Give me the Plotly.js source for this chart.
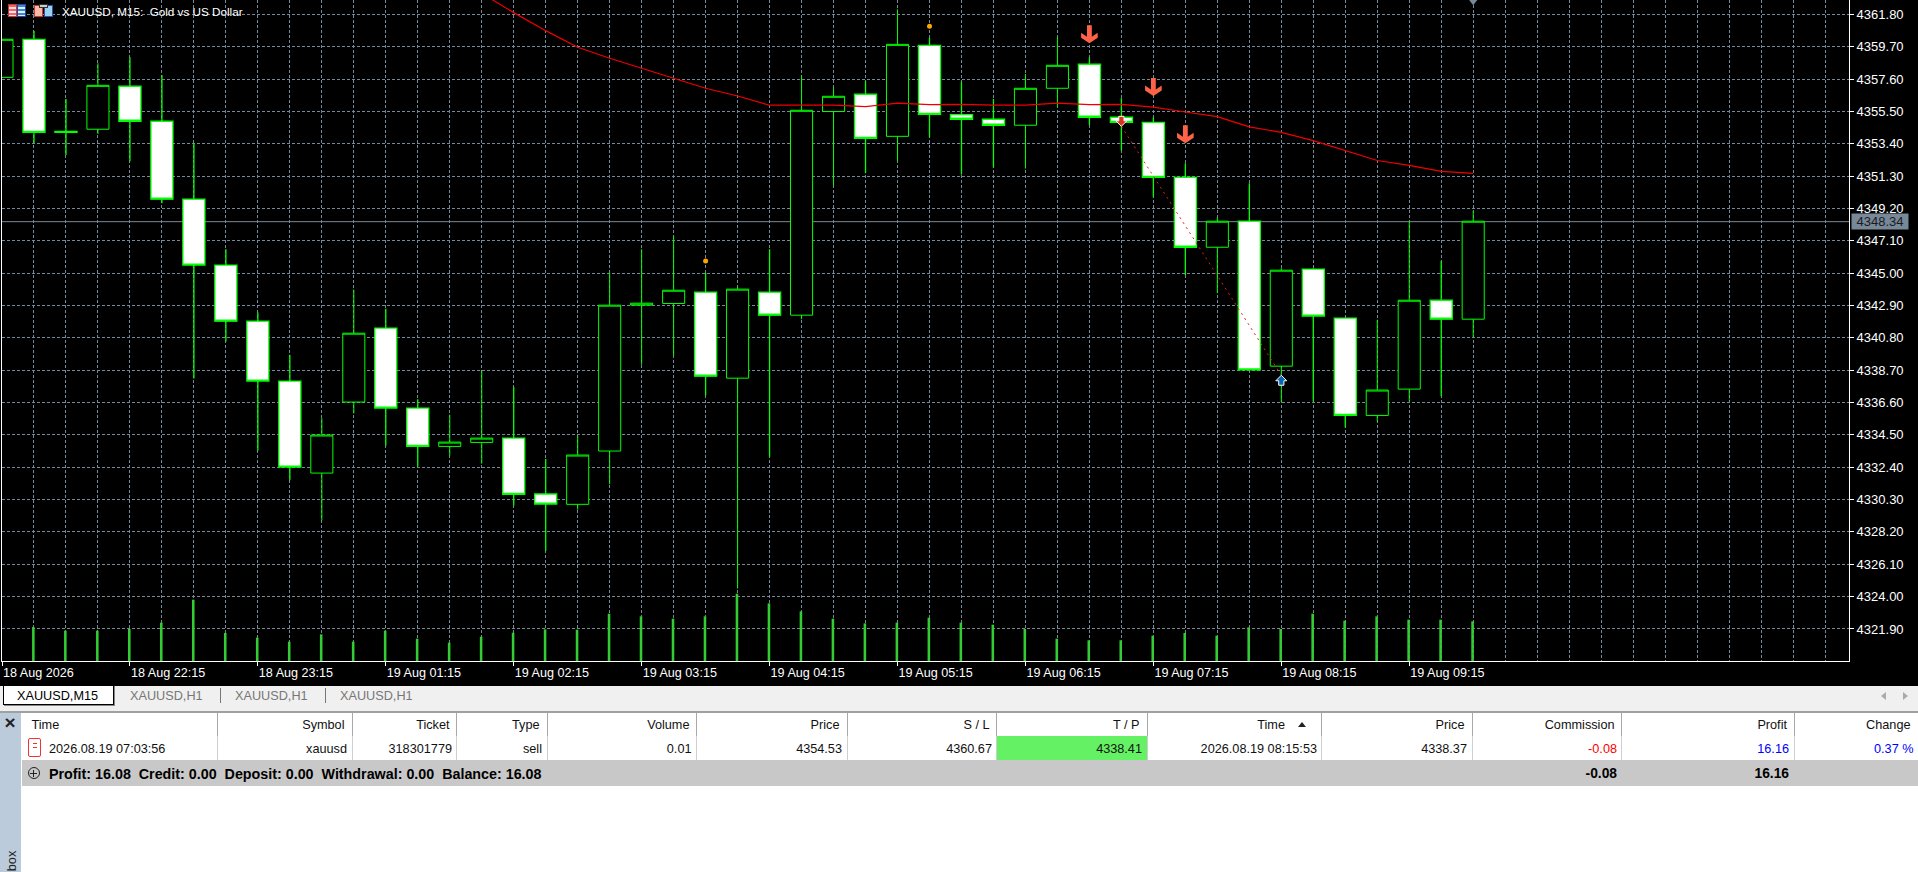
<!DOCTYPE html>
<html>
<head>
<meta charset="utf-8">
<script src="https://cdn.plot.ly/plotly-3.0.1.min.js"></script>
<style>
html,body{margin:0;padding:0;background:#000;width:1918px;height:872px;overflow:hidden;font-family:"Liberation Sans",Arial,sans-serif}
#chart{position:absolute;left:0;top:0;width:1918px;height:872px}
.b{position:absolute}
.t{position:absolute;white-space:pre;font-size:12.7px;line-height:16px;color:#111}
</style>
</head>
<body>
<div id="chart"></div>
<div id="ui"></div>
<script>
// ---- candles (M15 bars, oldest first) ----
const open  = [4357.71,4360.18,4354.20,4354.34,4357.13,4354.86,4349.80,4345.52,4341.88,4337.99,4332.02,4336.63,4341.43,4336.24,4333.75,4334.01,4334.29,4330.66,4329.99,4333.45,4342.92,4343.03,4343.76,4338.18,4343.76,4342.27,4355.49,4356.61,4353.88,4359.79,4355.29,4354.99,4354.60,4357.00,4358.56,4355.12,4354.79,4351.22,4346.68,4348.37,4338.96,4345.26,4342.08,4335.76,4337.47,4343.24,4342.01];
const high  = [4360.18,4360.72,4356.31,4358.62,4359.01,4357.86,4353.43,4346.55,4342.44,4339.70,4335.59,4343.92,4342.68,4336.82,4335.81,4338.68,4337.60,4332.93,4334.44,4345.04,4346.55,4347.40,4345.00,4344.13,4346.55,4357.86,4357.06,4357.47,4362.12,4360.29,4357.43,4356.31,4357.93,4360.33,4359.01,4356.35,4355.12,4352.13,4348.63,4350.84,4345.32,4345.32,4342.08,4341.97,4348.37,4345.78,4349.04];
const low   = [4357.71,4353.43,4352.67,4354.04,4352.26,4349.54,4338.16,4340.56,4333.49,4331.55,4328.95,4335.89,4333.79,4332.45,4333.15,4332.63,4329.92,4326.96,4329.64,4331.29,4339.05,4339.63,4337.06,4324.52,4333.08,4342.01,4350.68,4351.48,4352.26,4353.82,4351.40,4351.85,4351.79,4355.77,4354.60,4352.95,4349.93,4344.87,4343.70,4338.68,4336.63,4336.67,4334.98,4335.37,4336.67,4337.00,4340.84];
const close = [4360.18,4354.14,4354.14,4357.19,4354.86,4349.80,4345.52,4341.88,4337.99,4332.41,4334.49,4341.10,4336.24,4333.75,4334.03,4334.29,4330.64,4330.01,4333.19,4342.92,4343.05,4343.89,4338.31,4343.96,4342.27,4355.57,4356.48,4353.75,4359.85,4355.31,4354.99,4354.60,4357.00,4358.49,4355.12,4354.79,4351.22,4346.68,4348.37,4338.72,4345.19,4342.21,4335.76,4337.41,4343.24,4342.01,4348.37];
const volume = [null,1020,910,910,960,1150,1840,840,700,580,800,580,910,670,550,730,850,950,940,1420,1340,1270,1340,2020,1730,1490,1270,1130,1150,1300,1150,1090,960,670,620,620,760,840,760,1010,960,1420,1210,1340,1240,1240,1190];
const volumeAxisMax = 19839;
// moving average, bars 15..46
const maStart = 15;
const maValues = [4363.16,4361.91,4360.74,4359.66,4358.95,4358.30,4357.69,4357.00,4356.50,4355.90,4355.90,4355.90,4355.81,4356.03,4355.94,4355.96,4355.90,4355.90,4356.03,4355.94,4355.96,4355.77,4355.46,4355.16,4354.49,4354.14,4353.60,4352.95,4352.31,4352.00,4351.61,4351.48];
// axis
const priceTicks = [4361.80,4359.70,4357.60,4355.50,4353.40,4351.30,4349.20,4347.10,4345.00,4342.90,4340.80,4338.70,4336.60,4334.50,4332.40,4330.30,4328.20,4326.10,4324.00,4321.90];
const timeTickBars = [0,4,8,12,16,20,24,28,32,36,40,44];
const timeLabels = ["18 Aug 2026","18 Aug 22:15","18 Aug 23:15","19 Aug 01:15","19 Aug 02:15","19 Aug 03:15","19 Aug 04:15","19 Aug 05:15","19 Aug 06:15","19 Aug 07:15","19 Aug 08:15","19 Aug 09:15"];
const lastBarSlots = 57;
const priceRange = [4319.82,4362.73];
const barRange = [0,57.75];
const currentPrice = 4348.34;
// markers
const signalBars = [22,29];           const signalPrices = [4345.78,4361.02];
const sellArrowBars = [34,36,37];     const sellArrowPrices = [4359.92,4356.50,4353.43];
const tradeBars = [35,40];            const tradePrices = [4354.53,4338.37];
// ---- terminal table ----
const tabs = ["XAUUSD,M15","XAUUSD,H1","XAUUSD,H1","XAUUSD,H1"];
const headers = ["Time","Symbol","Ticket","Type","Volume","Price","S / L","T / P","Time","Price","Commission","Profit","Change"];
const rowValues = ["2026.08.19 07:03:56","xauusd","318301779","sell","0.01","4354.53","4360.67","4338.41","2026.08.19 08:15:53","4338.37","-0.08","16.16","0.37 %"];
const summaryText = "Profit: 16.08  Credit: 0.00  Deposit: 0.00  Withdrawal: 0.00  Balance: 16.08";
const summaryCommission = "-0.08";
const summaryProfit = "16.16";
const titleText = "XAUUSD, M15:  Gold vs US Dollar";

const GREEN='#00ff00', GRID='#778899', dash='3px,2px';
const L=1.5,R=68.6,T=0,B=210.7,plotW=1918-L-R,plotH=872-T-B;
const idx=open.map((_,i)=>i);
const slots=Array.from({length:lastBarSlots+1},(_,i)=>i);

const traces=[
 {type:'bar',x:idx,y:volume,yaxis:'y2',width:0.08,offset:-0.06,marker:{color:'#32cd32',line:{width:0}},hoverinfo:'skip',showlegend:false},
 {type:'candlestick',x:idx,open:open,high:high,low:low,close:close,
  increasing:{line:{color:GREEN,width:1},fillcolor:'#000000'},
  decreasing:{line:{color:GREEN,width:1.3},fillcolor:'#ffffff'},
  whiskerwidth:0,showlegend:false,hoverinfo:'skip'},
 {type:'scatter',mode:'lines',x:maValues.map((_,i)=>maStart+i),y:maValues,line:{color:'#f00000',width:1.2},showlegend:false,hoverinfo:'skip'},
 {type:'scatter',mode:'lines',x:tradeBars,y:tradePrices,line:{color:'#f02010',width:1,dash:'2px,4px'},showlegend:false,hoverinfo:'skip'},
 {type:'scatter',mode:'markers',x:signalBars,y:signalPrices,marker:{color:'#ffa500',size:5},showlegend:false,hoverinfo:'skip'},
 {type:'scatter',mode:'markers',x:[46],y:[priceRange[1]-0.05],marker:{symbol:'triangle-down',color:'#778899',size:9},showlegend:false,hoverinfo:'skip'}
];

const annotations=[
 {xref:'paper',yref:'paper',x:(60-L)/plotW,y:1-12/plotH,xanchor:'left',yanchor:'middle',showarrow:false,text:titleText,font:{color:'#fff',size:11.7,family:'Liberation Sans'}},
 {xref:'paper',yref:'y',x:(1851-L)/plotW,y:currentPrice,xanchor:'left',yanchor:'middle',showarrow:false,text:currentPrice.toFixed(2),
  bgcolor:'#778899',font:{color:'#1a1a1a',size:13,family:'Liberation Sans'},borderpad:0,width:56,height:15,align:'center'}
];
// pixel-sized glyphs pinned to a bar and a price (offsets are upward from the tip)
const pin=(x,y,path,fill,stroke)=>({type:'path',xref:'x',yref:'y',xsizemode:'pixel',ysizemode:'pixel',xanchor:x,yanchor:y,path:path,fillcolor:fill,line:{color:stroke,width:stroke==='#ffffff'?1:0},layer:'above'});
const bigDown='M0,0 L8.3,5.5 L8.3,10.5 L2.4,6.5 L2.4,18 L-2.4,18 L-2.4,6.5 L-8.3,10.5 L-8.3,5.5 Z';
const entryDown='M0,0 L5.5,5.5 L2.6,5.5 L2.6,10 L-2.6,10 L-2.6,5.5 L-5.5,5.5 Z';
const exitUp='M0,0 L5.5,-5.5 L2.6,-5.5 L2.6,-10 L-2.6,-10 L-2.6,-5.5 L-5.5,-5.5 Z';
const shapes=[{type:'line',xref:'paper',yref:'y',x0:0,x1:1,y0:currentPrice,y1:currentPrice,line:{color:'#778899',width:1},layer:'below'}];
sellArrowBars.forEach((b,i)=>shapes.push(pin(b,sellArrowPrices[i],bigDown,'#ff6347','#ff6347')));
shapes.push(pin(tradeBars[0],tradePrices[0],entryDown,'#d8341e','#ffffff'));
shapes.push(pin(tradeBars[1],tradePrices[1],exitUp,'#0a66b8','#ffffff'));

const layout={
 width:1918,height:872,margin:{l:L,r:R,t:T,b:B,pad:0},paper_bgcolor:'#000',plot_bgcolor:'#000',showlegend:false,
 font:{family:'Liberation Sans',color:'#fff',size:13},
 boxmode:'overlay',boxgap:0.31,boxgroupgap:0,
 xaxis:{type:'linear',range:barRange,fixedrange:true,rangeslider:{visible:false},showline:true,linecolor:'#fff',linewidth:1,
  tickmode:'array',tickvals:timeTickBars,ticktext:timeLabels,ticks:'outside',ticklen:4,tickcolor:'#fff',tickwidth:1,
  ticklabelposition:'outside right',tickfont:{size:12.6,color:'#fff',family:'Liberation Sans'},
  showgrid:true,gridcolor:GRID,griddash:dash,gridwidth:1,zeroline:false,
  minor:{tickmode:'array',tickvals:slots,showgrid:true,gridcolor:GRID,griddash:dash,gridwidth:1,ticks:''}},
 yaxis:{side:'right',range:priceRange,fixedrange:true,showline:true,mirror:true,linecolor:'#fff',linewidth:1,
  tickmode:'array',tickvals:priceTicks,ticktext:priceTicks.map(v=>v.toFixed(2)),ticks:'outside',ticklen:4,tickcolor:'#fff',tickwidth:1,
  tickfont:{size:13,color:'#fff',family:'Liberation Sans'},showgrid:true,gridcolor:GRID,griddash:dash,gridwidth:1,zeroline:false},
 yaxis2:{overlaying:'y',side:'left',range:[0,volumeAxisMax],visible:false,fixedrange:true,showgrid:false,zeroline:false},
 shapes:shapes,
 annotations:annotations
};
Plotly.newPlot('chart',traces,layout,{staticPlot:true,displayModeBar:false});

// ---- window chrome around the chart ----
const ui=document.getElementById('ui');
function box(x,y,w,h,css){const d=document.createElement('div');d.className='b';d.style.cssText=`left:${x}px;top:${y}px;width:${w}px;height:${h}px;`+(css||'');ui.appendChild(d);return d;}
function txt(s,x,cy,align,css){const d=document.createElement('div');d.className='t';d.textContent=s;
 d.style.cssText=(align==='right'?`right:${1918-x}px;`:`left:${x}px;`)+`top:${cy-8+1}px;`+(css||'');ui.appendChild(d);return d;}

// toolbar icons beside the title
box(7.5,4,9.5,13,'box-sizing:border-box;border:1px solid #c33;background:repeating-linear-gradient(#ef6a5a 0 2px,#fde 2px 4px)');
box(17,4,9,13,'box-sizing:border-box;border:1px solid #24a;background:repeating-linear-gradient(#3d86d0 0 2px,#def 2px 4px)');
box(34,5,9,12,'box-sizing:border-box;border:1px solid #c33;background:#f8b8a8');
box(44,5,9,12,'box-sizing:border-box;border:1px solid #25a;background:#9cd0f0');
box(39,4,9,4,'background:#ccc;border:1px solid #333;box-sizing:border-box');

// tab strip
box(0,686,1918,25,'background:#f0f0f0');
box(3,685,111,20,'background:#fff;border:1px solid #000;box-sizing:border-box;box-shadow:1px 1px 0 #888');
txt(tabs[0],17,695,'left','color:#000');
[130,235,340].forEach((x,i)=>txt(tabs[i+1],x,695,'left','color:#777'));
[220,325].forEach(x=>box(x,688,1,15,'background:#777'));
box(1881,692,0,0,'border-style:solid;border-width:4px 5px 4px 0;border-color:transparent #aaa transparent transparent');
box(1903,692,0,0,'border-style:solid;border-width:4px 0 4px 5px;border-color:transparent transparent transparent #aaa');

// terminal panel
box(0,711,1918,161,'background:#fff');
box(0,711,1918,2,'background:#a0a0a0');
box(0,713,20.5,159,'background:#bccbdc');
txt('\u00d7',4.5,722,'left','font-size:19px;font-weight:bold;color:#222');
const boxLabel=txt('box',2,860,'left','color:#222;transform:rotate(-90deg);transform-origin:center;font-size:12.7px');
const colEdges=[21.5,216.5,351.5,456,546.5,696,846.5,996,1146.5,1321,1471.5,1621,1793.5,1918];
box(996.5,736,150,24,'background:#64f264');
box(21.5,760,1896.5,26,'background:#c8c8c8');
colEdges.slice(1,-1).forEach(x=>{box(x,713,1,23,'background:#a8a8a8');box(x,736,1,24,'background:#cfcfcf');});
const headerRight=[0,344.5,449.5,539.5,689.5,839.5,989.5,1139.5,1285,1464.5,1614.5,1787,1910.5];
headers.forEach((h,i)=>{ if(i===0) txt(h,31.5,724,'left'); else txt(h,headerRight[i],724,'right'); });
const rowRight=[0,347,452,542,691.5,842,992,1142,1317,1467,1617,1789,1913.5];
const rowColor=['#111','#111','#111','#111','#111','#111','#111','#111','#111','#111','#f00','#00f','#00f'];
rowValues.forEach((v,i)=>{ if(i===0) txt(v,49,748,'left'); else txt(v,rowRight[i],748,'right','color:'+rowColor[i]); });
box(28,738,12.5,19,'border:1px solid #e33;border-radius:2px;box-sizing:border-box;background:#fff');
box(32.5,743,4,1,'background:#e33');box(32.5,747,4,1,'background:#e33');
box(1298,722,0,0,'border-style:solid;border-width:0 4px 5px 4px;border-color:transparent transparent #222 transparent');
box(27.5,767,12,12,'border:1px solid #222;border-radius:50%;box-sizing:border-box');
box(30,772.5,7,1,'background:#222');box(33,769.5,1,7,'background:#222');
txt(summaryText,49,772.5,'left','font-weight:bold;color:#000;font-size:14.3px');
txt(summaryCommission,1617,772.5,'right','font-weight:bold;color:#000;font-size:13.8px');
txt(summaryProfit,1789,772.5,'right','font-weight:bold;color:#000;font-size:13.8px');
</script>
</body>
</html>
